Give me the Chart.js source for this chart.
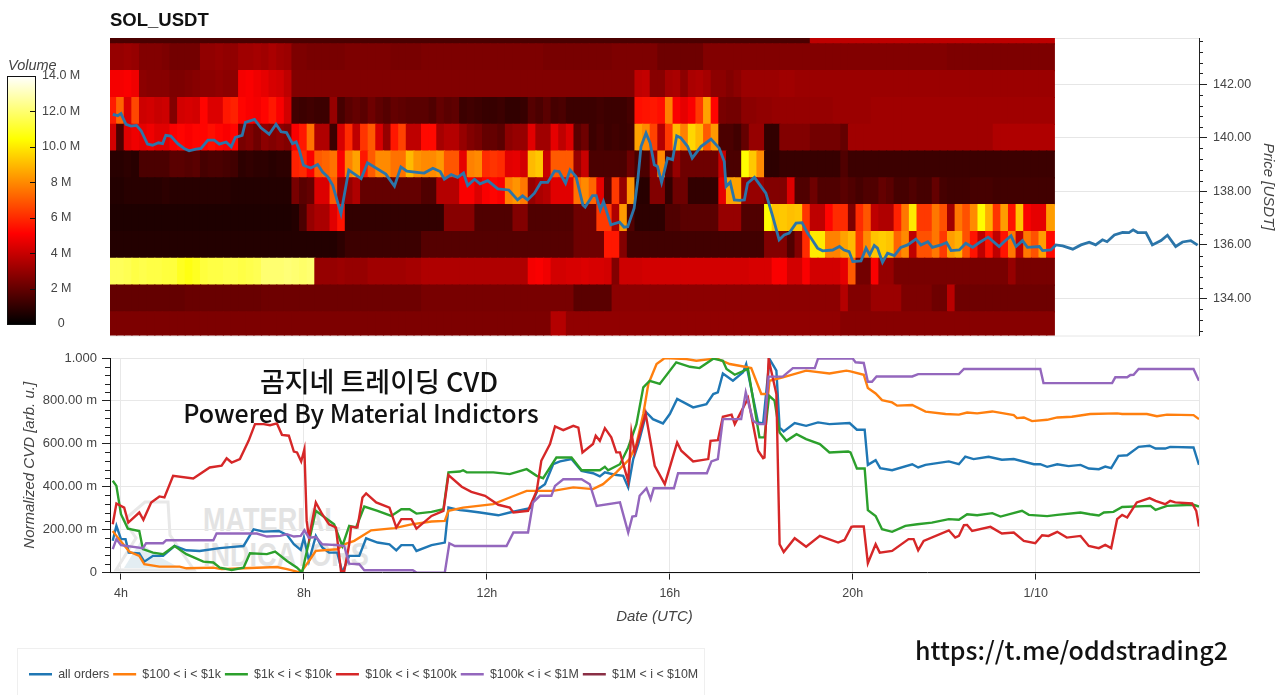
<!DOCTYPE html>
<html><head><meta charset="utf-8">
<script src="https://cdn.jsdelivr.net/npm/chart.js@4"></script>
<style>
html,body{margin:0;padding:0;background:#fff;width:1280px;height:695px;overflow:hidden;font-family:"Liberation Sans",Arial,sans-serif}
.abs{position:absolute}
canvas{display:block}
.ov{position:absolute;z-index:3;white-space:nowrap;color:#111;font-family:"Noto Sans CJK KR","Noto Sans",sans-serif;font-weight:500}
.wm{position:absolute;z-index:0;white-space:nowrap;color:#e3e3e3;font-family:"Liberation Sans",Arial,sans-serif;font-weight:700;transform-origin:0 0}
</style></head><body>
<div class="abs" id="wTop" style="left:0;top:0;width:1280px;height:349px;z-index:1"><canvas id="top"></canvas></div>
<div class="abs" id="wBar" style="left:0;top:55px;width:110px;height:285px;z-index:1"><canvas id="bar"></canvas></div>
<svg class="abs" style="left:110px;top:490px;z-index:0" width="90" height="85" viewBox="0 0 90 85">
<path d="M35 12 L58 12 L60 45 L84 80 L6 80 L26 48 L14 30 Z" fill="none" stroke="#e8e8e8" stroke-width="3"/>
<path d="M14 78 L30 52 L48 66 L70 78 Z" fill="#e3edf2"/></svg>
<div class="wm" style="left:203px;top:501px;font-size:33px;transform:scaleX(.82)">MATERIAL</div>
<div class="wm" style="left:203px;top:536px;font-size:33px;transform:scaleX(.82)">INDICATORS</div>
<div class="abs" id="wLow" style="left:0;top:345px;width:1280px;height:350px;z-index:1"><canvas id="low"></canvas></div>
<div class="abs" style="left:17px;top:648px;width:688px;height:60px;border:1px solid #efefef;box-sizing:border-box;z-index:0"></div>
<div class="abs" style="left:8px;top:57px;font:italic 14.5px 'Liberation Sans',Arial,sans-serif;color:#444;z-index:2">Volume</div>
<div class="ov" style="left:379px;top:362px;transform:translateX(-50%);font-size:27px;line-height:38px">곰지네 트레이딩 CVD</div>
<div class="ov" style="left:361px;top:393px;transform:translateX(-50%);font-size:25px;line-height:38px">Powered By Material Indictors</div>
<div class="ov" style="left:915px;top:629px;font-size:25px;line-height:40px">https://t.me/oddstrading2</div>
<script>
// ---------- shared ----------
const chartTitle = 'SOL_USDT';
const xMin = 3.76, xMax = 27.57;
const xTickHours = [4, 8, 12, 16, 20, 24];
const xTickNames = ['4h', '8h', '12h', '16h', '20h', '1/10'];
const textColor = '#444';
const uiFont = "'Liberation Sans',Arial,sans-serif";

// ---------- price axis ----------
const priceMin = 132.62, priceMax = 143.72;
const priceMajor = [134, 136, 138, 140, 142];
const priceMinor = [132.8,133.2,133.6,134.4,134.8,135.2,135.6,136.4,136.8,137.2,137.6,138.4,138.8,139.2,139.6,140.4,140.8,141.2,141.6,142.4,142.8,143.2,143.6];

// ---------- price line ----------
const priceHours = [3.82,3.93,4.00,4.11,4.22,4.34,4.44,4.58,4.69,4.82,4.91,4.98,5.09,5.24,5.38,5.49,5.64,5.75,5.90,6.04,6.15,6.30,6.41,6.50,6.65,6.72,6.92,7.06,7.24,7.39,7.50,7.62,7.75,7.83,7.90,7.99,8.15,8.30,8.41,8.52,8.63,8.81,8.98,9.25,9.39,9.79,9.98,10.12,10.25,10.52,10.63,10.82,10.98,11.07,11.22,11.36,11.49,11.58,11.73,11.85,12.02,12.24,12.48,12.67,12.78,12.89,13.04,13.18,13.33,13.48,13.58,13.72,13.82,13.95,14.10,14.15,14.31,14.39,14.48,14.55,14.71,14.90,15.00,15.08,15.22,15.30,15.37,15.48,15.57,15.66,15.73,15.82,15.95,16.06,16.15,16.24,16.39,16.49,16.68,16.90,17.08,17.19,17.23,17.32,17.41,17.52,17.63,17.70,17.85,18.10,18.25,18.39,18.50,18.61,18.76,18.89,19.01,19.09,19.23,19.34,19.56,19.71,19.81,19.92,20.00,20.18,20.29,20.37,20.47,20.54,20.65,20.76,20.91,21.05,21.20,21.38,21.49,21.64,21.74,21.93,22.05,22.15,22.33,22.47,22.62,22.77,22.96,23.20,23.31,23.46,23.57,23.71,23.82,24.08,24.15,24.33,24.44,24.59,24.81,24.99,25.17,25.31,25.46,25.56,25.72,25.90,26.04,26.13,26.23,26.41,26.55,26.74,26.88,27.06,27.21,27.39,27.54];
const priceValues = [140.87,140.82,140.90,140.50,140.43,140.46,140.26,139.76,139.72,139.81,139.78,140.09,140.06,139.78,139.60,139.51,139.57,139.60,139.91,139.91,139.76,139.84,139.66,140.01,140.09,140.57,140.68,140.37,140.13,140.50,140.22,140.19,139.78,139.84,139.53,138.97,138.87,139.00,138.72,138.54,138.22,137.17,138.79,138.47,139.06,138.64,138.19,138.91,138.75,138.70,138.68,138.86,138.74,138.45,138.62,138.52,138.68,138.22,138.45,138.28,138.40,138.09,138.05,137.68,137.83,137.68,137.93,138.33,138.33,138.76,138.74,138.30,138.80,138.55,137.49,137.41,137.84,137.84,137.31,137.62,136.75,136.85,136.66,136.68,137.37,138.43,139.67,140.17,139.80,138.99,138.93,138.33,139.24,139.18,140.07,139.99,139.67,139.24,139.67,139.95,139.61,139.11,138.18,138.34,137.68,137.66,137.68,138.30,138.52,137.93,137.06,136.19,136.37,136.44,136.81,136.83,136.44,136.25,135.88,135.78,135.81,135.94,135.81,135.75,135.38,135.40,135.88,135.63,135.98,135.88,135.35,135.69,135.60,135.91,136.00,136.22,136.00,136.12,135.91,136.00,136.09,135.79,135.81,136.06,135.91,136.09,136.29,135.94,136.12,136.34,135.94,136.16,135.91,135.94,135.79,135.81,136.00,135.96,135.84,136.00,136.10,136.00,136.19,136.12,136.37,136.47,136.46,136.56,136.46,136.46,136.00,136.16,136.36,135.94,136.11,136.16,135.99];

// ---------- heatmap: one row of volumes (millions) per price bin, 10-minute columns ----------
const heatStartHour = 3.74;
const heatStepHours = 1 / 6;
const heatRowFloor = [143.5,142.5,141.5,140.5,139.5,138.5,137.5,136.5,135.5,134.5,133.5,132.5];
const heatRow0 = [1.5,1.5,1.5,1.5,1.5,1.5,1.5,1.5,1.5,1.5,1.5,1.5,1.5,1.5,1.5,1.5,1.5,1.5,1.5,1.5,
1.5,1.5,1.5,1.5,1.5,1.5,1.5,1.5,1.5,1.5,1.5,1.5,1.5,1.5,1.5,1.5,1.5,1.5,1.5,1.5,
1.5,1.5,1.5,1.5,1.5,1.5,1.5,1.5,1.5,1.5,1.5,1.5,1.5,1.5,1.5,1.5,1.5,1.5,1.5,1.5,
1.5,1.5,1.5,1.5,1.5,1.5,1.5,1.5,1.5,1.5,1.5,1.5,1.5,1.5,1.5,1.5,1.5,1.5,1.5,1.5,
1.5,1.5,1.5,1.5,1.5,1.5,1.5,1.5,1.5,1.5,1.5,1.5,3.8,3.8,3.8,3.8,3.8,3.8,3.8,3.8,
3.8,3.8,3.8,3.8,3.8,3.8,3.8,3.8,3.8,3.8,3.8,3.8,3.8,3.8,3.8,3.8,3.8,3.8,3.8,3.8,3.8,3.8,3.8,3.8];
const heatRow1 = [3,3,3.1,3,2.6,2.6,2.6,2.5,2.3,2.3,
2.3,2.3,2.9,2.9,3,2.9,2.9,3.2,3.2,3.3,
3.2,3.4,3.2,3.1,2.5,2.5,2.4,2.4,2.4,2.4,
2.4,2.5,2.5,2.5,2.5,2.5,2.5,2.4,2.4,2.4,
2.4,2.5,2.5,2.5,2.5,2.5,2.5,2.5,2.5,2.5,
2.5,2.5,2.5,2.5,2.5,2.5,2.5,2.4,2.4,2.4,
2.4,2.4,2.4,2.4,2.4,2.4,2.5,2.5,2.5,2.5,
2.5,2.5,2.2,2.2,2.2,2.2,2.2,2.2,2.6,2.6,
2.6,2.6,2.6,2.6,2.6,2.6,2.6,2.6,2.6,2.6,
2.6,2.6,2.6,2.6,2.6,2.6,2.6,2.6,2.6,2.6,
2.6,2.6,2.6,2.6,2.6,2.6,2.6,2.6,2.6,2.6,
2.5,2.5,2.5,2.5,2.5,2.5,2.5,2.5,2.5,2.5,
2.5,2.5,2.5,2.5];
const heatRow2 = [4.9,4.9,5,4.8,2.8,2.7,2.7,2.7,2.5,2.5,
2.6,2.7,2.8,2.8,2.9,2.8,2.8,4.9,5,4.8,
4.6,4.3,4.2,3.8,2.6,2.6,2.6,2.6,2.6,2.6,
2.6,2.6,2.6,2.6,2.6,2.6,2.6,2.6,2.6,2.6,
2.6,2.6,2.6,2.6,2.6,2.6,2.6,2.6,2.6,2.6,
2.6,2.6,2.6,2.6,2.6,2.6,2.6,2.6,2.6,2.6,
2.6,2.6,2.6,2.6,2.6,2.6,2.6,2.6,2.6,3.8,
3.9,2.7,2.7,3.3,3.4,2.8,3.4,3.5,3.3,2.8,
2.8,2.6,2.8,3.1,3.1,3.1,3.1,3.1,3.2,3.2,
3.1,3.1,3.1,3.1,3.1,3.1,3.1,3.1,3.1,3.1,
3.1,3.1,3.1,3.1,3.1,3.1,3.1,3.1,3.1,3.1,
3.1,3.1,3.1,3.1,3.1,3.1,3.1,3.1,3.1,3.1,
3.1,3.1,3.1,3.1];
const heatRow3 = [5.7,7.2,4.4,6.6,4.1,4.2,4,4.1,2.6,4.2,
4.3,4.2,5.2,4.4,4.4,5.6,5.8,5.2,5,4.9,
5.2,5.6,5,4.2,1.3,1.2,1.3,1.2,1.2,3,
1.4,1.8,2,1.8,2.2,1.9,1.7,2,1.9,1.8,
1.8,1.8,1.6,2,1.8,1.9,1.2,1.3,1.2,1.1,
1.1,1.2,1,1,1.1,1.7,1.5,1.8,1.4,1.5,
1.2,1.2,1.2,1.2,1.3,1.2,1.2,1.2,1.4,5.4,
5.5,5.6,5.4,7.8,5,4.6,5,6.3,8.5,5.2,
2.4,2.3,2.3,2.8,2.8,2.9,2.9,3,3,3,
3,3,3,3,3,3.1,3.1,3.1,3.1,3.1,
3.2,3.2,3.2,3.2,3.2,3.2,3.2,3.2,3.2,3.2,
3.2,3.2,3.2,3.2,3.2,3.2,3.2,3.2,3.2,3.2,
3.2,3.2,3.2,3.2];
const heatRow4 = [4.2,1.5,4.5,4.8,4.6,4.8,4.5,4.5,5,5.2,
5,5.2,5.2,5.4,5.2,5,5.2,2.4,2.6,2.2,
2.8,2.6,2.8,2.6,5,5.6,7.5,3.5,3.5,1.2,
4.3,6,3.8,6.2,7,4.3,3,5.6,6.5,3.8,
3.8,5.3,5.3,3.3,3.6,3.6,3,2.6,2.4,2,
2,1.8,2.8,3,3,4.5,3.2,3.2,4.6,3.8,
4.4,1.8,2.2,1.2,1.4,1.2,1.3,1.2,1.3,8.5,
8,6.5,3.6,6.3,9,7.8,9.6,9,7,8.3,
1.5,1.5,1.3,2,3,3,1,1,2.6,2.6,
2.6,2.6,2.3,2.3,2.3,2.3,2,3.2,3.2,3.2,
3.2,3.2,3.2,3.2,3.2,3.2,3.2,3.2,3.2,3.2,
3.2,3.2,3.2,3.2,3.2,3.2,3.5,3.5,3.5,3.5,
3.5,3.5,3.5,3.5];
const heatRow5 = [.8,.8,.9,.8,1.5,1.5,1.5,1.5,1.8,1.8,
1.7,1.8,1.4,1.5,1.5,1.4,1.3,.9,1,.9,
.9,.8,.9,.9,5.8,6,5,7,7.2,7.5,
5,7.8,8.5,5.6,7,8,8,7.5,7.5,9,
8.2,8,8,8.3,6.9,6.9,4.6,7.8,8,6,
6.2,6,4.5,4.6,4.2,9,9.3,4,7,7,
7,3,4,1.5,1.5,1.5,1.5,1.5,2.2,1.5,
1.5,3,8,1.8,3,2.2,2.2,2.2,2.2,2.2,
4,1.5,1.5,10.4,9.3,8,.9,.9,1.1,1.1,
1.1,1.1,1.1,1.1,1.1,1.1,1.6,1.2,1.2,1.2,
1.2,1.2,1.2,1.2,1.2,1.2,1.2,1.2,1.2,1.2,
1.2,1.2,1.2,1.2,1.2,1.2,1.2,1.2,1.2,1.2,
1.2,1.2,1.2,1.2];
const heatRow6 = [.7,.7,.8,.8,.8,.8,.8,.9,.8,.8,
.8,.8,.8,.8,.8,.8,.7,.7,.7,.7,
.7,.7,.7,.7,2.4,1.8,2,4.4,4.4,7,
3,3,3.5,2,2,2,2,2,2,2,
2,1.6,1.6,3.6,3.6,3.6,5,5,4.4,5,
5.2,5,7.8,8.2,7.6,3,3.4,3.6,4.5,4.5,
4.5,7.5,8,7.2,4.6,1.8,6.3,3,8.2,.8,
.8,2.6,2.6,1,2.2,2.2,1,1,1,1,
4.6,8.5,8.5,3,3,3,2.6,2.6,2.6,4.4,
1.6,1.6,2.2,1.6,1.6,1.6,1.8,1.6,1.4,1.6,
1.6,2,1.8,1.4,1.4,1.6,1.4,1.4,2,1.4,
1.3,1.3,1.3,1.4,1.4,1.4,1.3,1.3,1.3,1.3,
1.3,1.3,1.3,1.3];
const heatRow7 = [.6,.6,.6,.6,.6,.6,.6,.6,.6,.6,
.6,.6,.6,.6,.6,.6,.6,.6,.6,.6,
.6,.6,.6,.6,.7,1.5,3,3.4,3.4,4.5,
5.5,1,1,1,1,1,1,1,1,1,
1,1,1,1,2.7,2.7,2.7,2.7,1.6,1.6,
1.6,1.6,1.6,2.6,2.6,1.6,1.6,1.6,1.6,1.6,
1.6,2.2,2.2,2.2,6.3,6.3,3.5,8.3,1.6,.9,
.9,.9,.9,1.6,1.6,1.8,1.8,1.8,1.8,1.8,
3,3,3,1.6,1.6,1.6,10.4,9.2,9.3,9.1,
9.2,6.2,3.8,3.8,5.2,6,6,2.5,6,6.9,
3.8,3.5,3.5,5.8,7.6,10,6.3,6.3,7.6,6.8,
3.2,7.6,6.8,8,10.4,8.8,6.2,8.4,5.5,9.2,
5,4.6,4.6,8.4];
const heatRow8 = [.7,.7,.7,.7,.7,.7,.7,.7,.7,.7,
.7,.7,.7,.7,.7,.7,.7,.7,.7,.7,
.7,.7,.7,.7,.7,.7,.7,.7,.7,.7,
.9,1.2,1.2,1.2,1.2,1.2,1.2,1.2,1.2,1.2,
1.2,1.7,1.7,1.7,1.7,1.7,1.7,1.7,1.7,1.7,
1.7,1.7,1.7,1.7,1.7,1.7,1.7,1.7,1.7,1.7,
1.7,2.2,2.2,2.2,2.2,5.6,5.6,2.6,1.3,1.3,
1.3,1.3,1.3,1.3,1.3,1.3,1.3,1.3,1.3,1.3,
1.3,1.3,1.3,1.3,1.3,1.3,2.6,2.6,2.6,1.6,
2.6,6,10,10,7.8,7.8,8.5,9,6.3,8,
9.2,9.4,9.2,7.2,8,3.8,6.8,6.8,7.6,6.3,
8.4,8.8,6.8,5.5,3.8,5.5,3.8,5.5,7.6,3.8,
7.6,6.8,8.4,5.3];
const heatRow9 = [11.7,11.7,11.6,11.4,11.5,11.4,11.4,11.3,11.3,10.9,
10.7,10.9,11.3,11.4,11.4,11.5,11.5,11.4,11.5,11.6,
12,12,12,12.1,12,11.9,12,3,3,3,
3.1,3,3,3,3.2,3.2,3.2,3.2,3.2,3.3,
3.3,3.5,3.5,3.5,3.5,3.5,3.5,3.5,3.5,3.5,
3.5,3.5,3.5,3.5,3.5,4.9,5,4.8,4.2,4.2,
4.3,4.3,4.4,4.3,4.3,4.2,2.6,4.1,4.1,4.1,
4.2,4.2,4.2,4.2,4.2,4.2,4.2,4.2,4.2,4.2,
4.2,4.2,4.2,4.2,4.3,4.3,4.3,5,5,4.2,
4.2,5,4.2,4.2,4.2,4.2,4.6,7,2.3,2.3,
5,3,3,2.4,2.4,2.4,2.4,2.4,2.4,2.4,
2.4,2.4,2.4,2.4,2.4,2.4,2.4,2.4,3,2.4,
2.4,2.4,2.4,2.4];
const heatRow10 = [2,2,2,2,2,2,2,2,2,2,
2.1,2.1,2.1,2.1,2.1,2.1,2.1,2.1,2.1,2.1,
2.2,2.2,2.2,2.2,2.2,2.2,2.2,2.2,2.2,2.2,
2.2,2.2,2.2,2.2,2.2,2.2,2.2,2.2,2.2,2.2,
2.2,2.4,2.4,2.4,2.4,2.4,2.4,2.4,2.4,2.4,
2.4,2.4,2.4,2.4,2.4,2.4,2.4,2.4,2.4,2.4,
2.4,1.8,1.8,1.8,1.8,1.8,2.8,2.8,2.8,2.8,
2.8,2.8,2.8,2.8,2.8,2.8,2.8,2.8,2.8,2.8,
2.8,2.8,2.8,2.8,2.8,2.8,2.8,2.8,2.8,2.8,
2.8,2.8,2.8,2.8,2.8,2.8,3.6,2.6,2.6,2.6,
3.1,3.1,3.1,3.1,2.5,2.5,2.5,2.5,2.2,2.2,
3.7,2.2,2.2,2.2,2.2,2.2,2.2,2.2,2.2,2.2,
2.2,2.2,2.2,2.2];
const heatRow11 = [2.5,2.5,2.5,2.5,2.5,2.5,2.5,2.5,2.5,2.5,
2.5,2.5,2.5,2.5,2.5,2.5,2.5,2.5,2.5,2.5,
2.5,2.5,2.5,2.5,2.5,2.5,2.5,2.5,2.5,2.5,
2.5,2.5,2.5,2.5,2.5,2.5,2.5,2.5,2.5,2.5,
2.5,2.5,2.5,2.5,2.5,2.5,2.5,2.5,2.5,2.5,
2.5,2.5,2.5,2.5,2.5,2.5,2.5,2.5,3.6,3.6,
2.9,2.9,2.9,2.9,2.9,2.9,2.9,2.9,2.9,2.9,
2.9,2.9,2.9,2.9,2.9,2.9,2.9,2.9,2.9,2.9,
2.9,2.9,2.9,2.9,2.9,2.9,2.9,2.9,2.9,2.9,
2.9,2.9,2.9,2.9,2.9,2.9,2.7,2.7,2.7,2.7,
2.7,2.7,2.7,2.7,2.7,2.7,2.7,2.7,2.7,2.7,
2.7,2.7,2.7,2.7,2.7,2.7,2.7,2.7,2.7,2.7,
2.7,2.7,2.7,2.7];
const heatRows = [heatRow0,heatRow1,heatRow2,heatRow3,heatRow4,heatRow5,heatRow6,heatRow7,heatRow8,heatRow9,heatRow10,heatRow11];

// ---------- volume colour bar ----------
const volumeMax = 14;
const volumeTicks = [0,2,4,6,8,10,12,14];
const volumeLabels = ['0','2 M','4 M','6 M','8 M','10.0 M','12.0 M','14.0 M'];
const hotStops = [[0,0,0,0],[.365,255,0,0],[.746,255,255,0],[1,255,255,255]];

// ---------- CVD ----------
const cvdTicks = [0,200,400,600,800,1000];
const cvdLabels = ['0','200.00 m','400.00 m','600.00 m','800.00 m','1.000'];
const cvdMinor = [40,80,120,160,240,280,320,360,440,480,520,560,640,680,720,760,840,880,920,960];
const seriesNames = ['all orders','$100 < i < $1k','$1k < i < $10k','$10k < i < $100k','$100k < i < $1M','$1M < i < $10M'];
const seriesColors = ['#1f77b4','#ff7f0e','#2ca02c','#d62728','#9467bd','#8a2f45'];

const allHours = [3.82,3.90,4.00,4.10,4.17,4.40,4.51,4.70,4.92,5.17,5.43,5.72,6.16,6.46,6.68,6.90,7.12,7.45,7.63,7.78,7.93,8.00,8.11,8.26,8.40,8.55,8.73,8.84,8.99,9.21,9.36,9.61,9.87,10.02,10.13,10.38,10.46,10.79,11.08,11.16,11.41,11.56,11.85,12.25,12.50,12.94,13.12,13.27,13.45,13.60,13.85,14.07,14.32,14.47,14.58,14.80,14.98,15.09,15.20,15.31,15.49,15.63,15.85,16.00,16.16,16.51,16.80,16.95,17.05,17.16,17.38,17.60,17.67,17.93,18.04,18.18,18.33,18.40,18.49,18.73,18.98,19.24,19.49,19.93,20.09,20.26,20.33,20.50,20.60,20.86,21.30,21.43,21.59,22.10,22.32,22.46,22.64,22.97,23.26,23.52,23.96,24.10,24.25,24.47,24.72,24.98,25.16,25.38,25.52,25.65,25.81,26.00,26.25,26.49,26.62,26.83,26.94,27.45,27.57];
const allValues = [148,218,156,156,93,90,51,78,78,124,104,101,114,120,124,202,191,194,176,132,106,163,54,171,117,93,93,0,78,78,160,140,132,104,128,128,101,128,140,303,291,288,280,267,280,300,389,412,505,518,529,474,463,448,467,456,451,397,529,599,746,715,695,739,809,770,785,832,840,928,894,933,972,700,695,995,941,676,658,697,684,700,692,697,666,666,502,524,487,477,505,490,502,518,505,540,529,540,526,529,505,505,493,505,496,502,485,482,494,487,544,547,586,591,578,578,586,583,502];

const h100Hours = [3.82,3.93,4.18,4.40,4.51,4.84,5.28,5.43,6.02,6.20,6.68,7.41,7.63,7.93,8.11,8.26,8.73,8.88,9.10,9.47,9.98,10.35,10.79,11.08,11.16,11.48,12.14,12.50,12.87,13.45,13.89,14.32,14.54,14.83,15.12,15.27,15.42,15.53,15.71,15.89,16.36,16.58,17.02,17.31,17.64,17.78,18.00,18.15,18.18,18.47,18.98,19.49,19.86,19.95,20.24,20.33,20.50,20.64,20.86,20.97,21.30,21.59,22.03,22.32,22.50,22.72,23.05,23.52,23.59,23.74,23.92,24.25,24.47,24.79,25.19,25.78,25.89,26.43,26.65,26.87,27.45,27.57];
const h100Values = [194,163,98,78,39,28,28,20,23,16,20,26,16,0,54,101,109,132,148,197,207,225,238,241,288,303,319,350,381,381,397,389,412,467,529,599,739,879,972,1000,995,987,998,972,959,953,832,832,894,910,941,928,941,938,922,860,835,804,793,778,781,750,739,736,746,742,751,734,720,723,706,712,723,726,739,742,739,739,729,736,734,715];

const k1Hours = [3.82,3.90,4.00,4.15,4.40,4.48,4.70,4.92,5.17,5.43,5.80,6.02,6.16,6.42,6.68,6.82,7.19,7.37,7.63,7.85,7.96,8.26,8.66,8.84,8.99,9.14,9.32,9.61,9.91,10.13,10.31,10.46,10.79,11.05,11.16,11.41,11.48,11.56,12.14,12.50,12.87,13.09,13.23,13.52,13.85,14.07,14.47,14.58,14.65,14.91,15.09,15.27,15.42,15.56,15.78,16.14,16.44,16.65,16.95,17.16,17.24,17.42,17.71,17.96,18.07,18.17,18.29,18.40,18.55,18.77,18.98,19.28,19.49,19.90,19.95,20.09,20.26,20.33,20.50,20.64,20.86,21.15,21.41,21.73,22.10,22.32,22.50,22.72,23.05,23.23,23.70,23.85,24.25,24.47,24.98,25.19,25.38,25.49,25.70,25.89,26.51,26.62,26.87,27.45,27.57];
const k1Values = [428,404,272,205,194,109,93,86,124,86,51,47,23,12,23,90,86,98,54,23,0,288,225,124,218,210,308,288,264,295,295,275,283,295,467,471,477,467,467,459,482,451,440,536,536,477,477,493,477,505,583,692,863,894,879,980,959,953,997,987,949,922,949,630,630,824,801,653,614,645,622,599,560,564,560,485,485,291,264,202,190,218,225,233,249,246,272,267,277,261,288,269,263,269,280,272,266,280,283,306,311,292,311,316,308];

const k10Hours = [3.82,3.90,4.07,4.16,4.40,4.49,4.66,4.84,4.95,5.14,5.58,5.94,6.20,6.31,6.42,6.60,6.79,6.93,7.12,7.26,7.41,7.52,7.67,7.78,7.85,7.94,8.01,8.06,8.11,8.26,8.40,8.55,8.70,8.81,8.88,8.99,9.03,9.17,9.28,9.36,9.58,9.87,10.02,10.13,10.35,10.46,10.79,11.05,11.16,11.45,11.66,11.96,12.25,12.50,12.58,12.90,13.09,13.19,13.38,13.49,13.67,13.89,14.00,14.09,14.32,14.38,14.47,14.58,14.72,14.83,14.91,15.09,15.16,15.23,15.47,15.67,15.89,16.16,16.25,16.51,16.84,16.89,17.05,17.16,17.35,17.42,17.71,17.93,18.04,18.07,18.16,18.33,18.40,18.49,18.73,18.98,19.28,19.68,19.82,19.97,20.02,20.24,20.33,20.50,20.59,20.86,21.22,21.33,21.43,21.55,22.10,22.24,22.32,22.43,22.50,22.61,23.01,23.26,23.52,23.74,23.99,24.14,24.28,24.47,24.68,24.98,25.16,25.38,25.52,25.65,25.78,25.89,26.00,26.21,26.49,26.62,26.83,26.94,27.05,27.42,27.51,27.57];
const k10Values = [225,322,303,233,280,246,327,355,350,451,439,490,498,533,513,529,614,692,692,687,695,642,638,564,560,518,575,241,163,327,272,225,210,8,5,132,213,210,350,369,327,303,210,249,249,205,264,288,454,400,376,358,316,303,280,288,381,521,599,681,664,684,676,560,599,638,614,673,630,560,560,425,653,560,742,498,412,606,568,518,529,614,617,726,736,692,813,568,533,536,995,832,132,96,160,121,171,140,152,213,215,215,44,132,93,101,156,156,104,148,197,163,171,221,222,194,213,182,187,148,137,174,171,190,163,171,124,114,129,114,249,269,257,327,347,334,319,334,327,322,288,215];

const k100Hours = [3.82,3.90,4.00,4.48,4.55,4.92,4.99,6.02,6.09,6.97,7.19,7.48,7.63,7.78,7.93,8.01,8.11,8.26,8.40,8.73,8.88,8.99,9.21,9.32,10.38,10.46,11.08,11.18,11.30,12.43,12.58,12.90,13.01,13.16,13.41,13.49,13.67,14.07,14.25,14.40,14.91,15.09,15.18,15.26,15.34,15.49,15.58,15.65,16.09,16.18,16.81,16.91,17.05,17.16,17.56,17.66,17.82,17.93,18.07,18.16,18.47,18.69,19.17,19.24,20.00,20.06,20.24,20.33,20.42,20.52,21.30,21.43,22.32,22.43,24.10,24.17,25.67,25.74,26.00,26.07,26.14,26.25,27.45,27.57];
const k100Values = [109,156,128,114,137,137,151,151,182,182,168,171,179,168,171,197,163,166,132,128,124,42,39,11,11,0,0,137,124,124,187,187,327,358,358,404,435,435,412,311,327,187,261,264,358,393,342,393,393,463,463,518,529,715,715,840,708,692,692,913,913,953,953,997,997,980,977,889,889,914,914,925,925,949,949,883,883,910,910,921,922,949,949,894];

// the sixth series has a legend entry but no line that can be seen in the picture
const m1Hours = [];
const m1Values = [];

const seriesHours = [allHours,h100Hours,k1Hours,k10Hours,k100Hours,m1Hours];
const seriesValues = [allValues,h100Values,k1Values,k10Values,k100Values,m1Values];

// ---------- helpers ----------
function hot(v){
  const f = Math.max(0, Math.min(1, v / volumeMax));
  for (let i = 1; i < hotStops.length; i++) {
    const a = hotStops[i-1], b = hotStops[i];
    if (f <= b[0]) {
      const t = (f - a[0]) / (b[0] - a[0]);
      return `rgb(${Math.round(a[1]+(b[1]-a[1])*t)},${Math.round(a[2]+(b[2]-a[2])*t)},${Math.round(a[3]+(b[3]-a[3])*t)})`;
    }
  }
  return '#fff';
}
const zip = (xs, ys) => xs.map((x, i) => ({x, y: ys[i]}));
const heatCells = [];
heatRows.forEach((row, r) => row.forEach((v, c) => {
  heatCells.push({x: heatStartHour + (c + .5) * heatStepHours, y: [heatRowFloor[r], heatRowFloor[r] + 1], v});
}));

const framePlugin = {id:'frame', beforeDatasetsDraw(chart){
  const a = chart.chartArea, c = chart.ctx;
  c.save(); c.strokeStyle = '#e6e6e6'; c.lineWidth = 1;
  c.strokeRect(a.left + .5, a.top + .5, a.right - a.left, a.bottom - a.top);
  c.restore();
}};
// short unlabelled ticks, placed through the axis scale
const minorPlugin = {id:'minorTicks', afterDraw(chart, _, o){
  const s = chart.scales[o.scale], c = chart.ctx; if (!s) return;
  c.save(); c.strokeStyle = o.color || '#222'; c.lineWidth = 1;
  o.values.forEach(v => {
    const y = Math.round(s.getPixelForValue(v)) + .5;
    c.beginPath(); c.moveTo(o.base(s), y); c.lineTo(o.base(s) + o.len, y); c.stroke();
  });
  c.restore();
}};

Chart.defaults.animation = false;
Chart.defaults.responsive = true;
Chart.defaults.maintainAspectRatio = false;
Chart.defaults.font.family = uiFont;
Chart.defaults.color = textColor;
Chart.defaults.layout.autoPadding = false;

// ---------- top: heatmap + price ----------
new Chart(document.getElementById('top'), {
  type: 'bar',
  data: {datasets: [
    {type:'line', label:'Price', data: zip(priceHours, priceValues), borderColor:'#2b75a9', borderWidth:2.8, pointRadius:0, tension:0, order:0},
    {type:'bar', label:'Volume', data: heatCells, backgroundColor: ctx => hot(ctx.raw ? ctx.raw.v : 0), borderWidth:0, inflateAmount:.6, barPercentage:1, categoryPercentage:1, order:1}
  ]},
  options: {
    layout:{padding:{left:110, right:0, top:0, bottom:6}},
    plugins:{
      legend:{display:false}, tooltip:{enabled:false},
      title:{display:true, text:chartTitle, align:'start', fullSize:false, color:'#111',
        font:{size:18.5, weight:'bold', family:uiFont}, padding:{top:9.9, bottom:5.9}},
      minorTicks:{scale:'y', values:priceMinor, len:4, base:s => s.left}
    },
    scales:{
      x:{type:'linear', min:xMin, max:xMax, display:false, offset:false, grid:{display:false}},
      y:{type:'linear', position:'right', min:priceMin, max:priceMax,
        afterBuildTicks:s => { s.ticks = priceMajor.map(value => ({value})); },
        afterFit:s => { s.width = 81; },
        ticks:{padding:6, font:{size:12.5}, color:textColor, callback:v => v.toFixed(2)},
        grid:{color:'#e6e6e6', tickColor:'#222', tickLength:8},
        border:{color:'#222', z:2},
        title:{display:true, text:'Price [USDT]', color:textColor, font:{size:15, style:'italic'}, padding:{top:3, bottom:0}}
      }
    }
  },
  plugins:[framePlugin, minorPlugin]
});

// ---------- colour bar ----------
new Chart(document.getElementById('bar'), {
  type:'bar',
  data:{datasets:[{label:'Volume', data:[{x:.5, y:[0, volumeMax]}], barThickness:28, borderWidth:0,
    backgroundColor: ctx => {
      const s = ctx.chart.scales.y;
      const y0 = s ? s.getPixelForValue(0) : NaN, y1 = s ? s.getPixelForValue(volumeMax) : NaN;
      if (!Number.isFinite(y0) || !Number.isFinite(y1)) return '#800000';
      const g = ctx.chart.ctx.createLinearGradient(0, y0, 0, y1);
      hotStops.forEach(h => g.addColorStop(h[0], `rgb(${h[1]},${h[2]},${h[3]})`));
      return g;
    }}]},
  options:{
    layout:{padding:{left:7, top:21, bottom:16, right:0}},
    plugins:{legend:{display:false}, tooltip:{enabled:false},
      minorTicks:{scale:'y', values:volumeTicks, len:-5, base:s => s.left, color:'#111'}},
    scales:{
      x:{type:'linear', min:0, max:1, display:false, offset:false},
      y:{type:'linear', position:'right', min:0, max:volumeMax,
        afterBuildTicks:s => { s.ticks = volumeTicks.map(value => ({value})); },
        afterFit:s => { s.width = 75; },
        grid:{display:false, drawTicks:false},
        border:{color:'#111', z:2},
        ticks:{padding:7, crossAlign:'center', font:{size:12.5}, color:textColor,
          callback:v => volumeLabels[volumeTicks.indexOf(v)]}
      }
    }
  },
  plugins:[{id:'barBox', afterDraw(chart){
    const a = chart.chartArea, c = chart.ctx;
    c.save(); c.strokeStyle = '#111'; c.strokeRect(a.left + .5, a.top + .5, a.right - a.left, a.bottom - a.top); c.restore();
  }}, minorPlugin]
});

// ---------- bottom: CVD ----------
new Chart(document.getElementById('low'), {
  type:'line',
  data:{datasets: seriesNames.map((label, i) => ({
    label, data: zip(seriesHours[i], seriesValues[i]),
    borderColor: seriesColors[i], backgroundColor: seriesColors[i],
    borderWidth:2.4, pointRadius:0, tension:0, order: seriesNames.length - i
  }))},
  options:{
    layout:{padding:{top:13, right:81, bottom:21, left:0}},
    plugins:{
      tooltip:{enabled:false},
      legend:{display:true, position:'bottom', align:'start',
        labels:{boxWidth:23, boxHeight:0, padding:4, color:textColor, font:{size:12.4},
          sort:(a, b) => a.datasetIndex - b.datasetIndex}},
      minorTicks:{scale:'y', values:cvdMinor, len:-5, base:s => s.right}
    },
    scales:{
      x:{type:'linear', min:xMin, max:xMax, offset:false,
        afterBuildTicks:s => { s.ticks = xTickHours.map(value => ({value})); },
        afterFit:s => { s.height = 75; },
        grid:{color:'#e8e8e8', tickColor:'#222', tickLength:7},
        border:{color:'#111', z:2},
        ticks:{padding:6, maxRotation:0, font:{size:12.5}, color:textColor,
          callback:v => xTickNames[xTickHours.indexOf(v)]},
        title:{display:true, text:'Date (UTC)', color:textColor, font:{size:15, style:'italic'}, padding:{top:0, bottom:21.5}}
      },
      y:{type:'linear', min:0, max:1000,
        afterBuildTicks:s => { s.ticks = cvdTicks.map(value => ({value})); },
        afterFit:s => { s.width = 110; },
        grid:{color:'#e8e8e8', tickColor:'#222', tickLength:8},
        border:{color:'#111', z:2},
        ticks:{padding:5, font:{size:13}, color:textColor,
          callback:v => cvdLabels[cvdTicks.indexOf(v)]},
        title:{display:true, text:'Normalized CVD [arb. u.]', color:textColor, font:{size:15, style:'italic'}, padding:{top:20.6, bottom:0}}
      }
    }
  },
  plugins:[framePlugin, minorPlugin, {id:'legendPlace', afterLayout(chart){
    const l = chart.legend, h = l.bottom - l.top;
    l.left = 25; l.top = 319; l.bottom = 319 + h; l.right = 1280;
  }}]
});
</script>
</body></html>
